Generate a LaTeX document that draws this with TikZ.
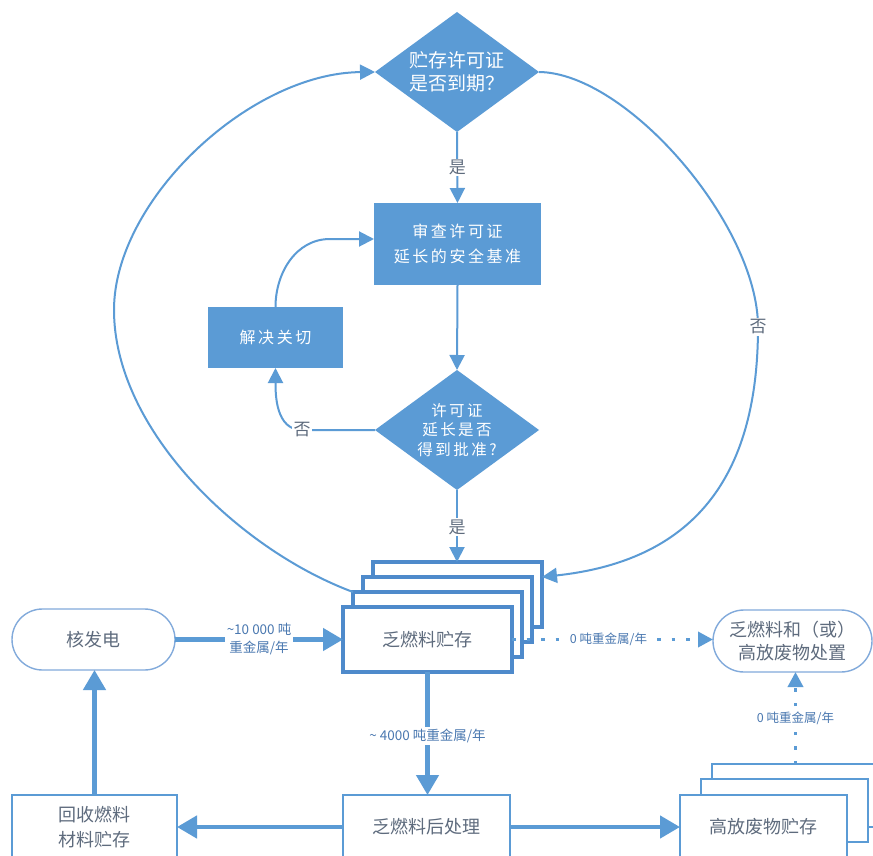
\documentclass[tikz,border=0pt]{standalone}
\usepackage{fontspec}
\setmainfont{Noto Sans CJK SC}
\newfontfamily\kai[LetterSpace=16]{Noto Sans CJK SC}
\usetikzlibrary{shapes.geometric,shapes.misc,arrows.meta,calc}
\definecolor{bfill}{HTML}{5B9BD5}
\definecolor{bline}{HTML}{5B9BD5}
\definecolor{bdark}{HTML}{4E8ACB}
\definecolor{txt}{HTML}{5E6B7D}
\definecolor{lbl}{HTML}{4A78B0}
\definecolor{bord}{HTML}{82AADB}
\tikzset{
  dia/.style={diamond, fill=bfill, text=white, minimum width=164pt, minimum height=120pt,
    inner sep=0pt, outer sep=0pt, shape aspect=1.37, align=center},
  bluebox/.style={rectangle, fill=bfill, text=white, inner sep=0pt, outer sep=0pt, align=center,
    font=\kai\fontsize{16}{25}\selectfont},
  wbox/.style={rectangle, draw=bline, line width=1.5pt, fill=white, text=txt, inner sep=0pt,
    outer sep=0pt, align=center, font=\fontsize{18}{25}\selectfont},
  stackbox/.style={rectangle, draw=bdark, line width=3.2pt, fill=white, text=txt, inner sep=0pt,
    outer sep=0pt, minimum width=169pt, minimum height=65pt, font=\fontsize{18}{25}\selectfont},
  hbox/.style={rectangle, draw=bline, line width=1.5pt, fill=white, text=txt, inner sep=0pt,
    outer sep=0pt, minimum width=167pt, minimum height=63pt, font=\fontsize{18}{25}\selectfont},
  stad/.style={rounded rectangle, draw=bord, line width=1.4pt, fill=white, text=txt, inner sep=0pt,
    outer sep=0pt, align=center, font=\fontsize{18}{23}\selectfont},
  thinarrow/.style={draw=bline, line width=2pt, -{Triangle[length=15pt,width=15pt]}},
  thickarrow/.style={draw=bline, line width=4.5pt, -{Triangle[length=20pt,width=22pt]}},
  dotarrow/.style={draw=bline, line width=3.5pt, dash pattern=on 3.5pt off 11pt,
    -{Triangle[length=15pt,width=15pt]}},
  yn/.style={fill=white, text=txt, inner sep=1.5pt, font=\fontsize{17}{17}\selectfont},
  flow/.style={fill=white, text=lbl, inner sep=2pt, align=center, font=\fontsize{13.5}{18}\selectfont},
  flowsmall/.style={fill=white, text=lbl, inner sep=2pt, font=\fontsize{12.5}{14}\selectfont}
}
\begin{document}
\begin{tikzpicture}[x=1pt,y=-1pt]
\useasboundingbox (0,0) rectangle (873,856);
\fill[white] (0,0) rectangle (873,856);

% decision and action nodes
\node[dia, font=\fontsize{19}{23}\selectfont] (d1) at (457,72) {贮存许可证\\是否到期？};
\node[bluebox, minimum width=167pt, minimum height=82pt] (b1) at (457.5,244) {审查许可证\\延长的安全基准};
\node[bluebox, minimum width=135pt, minimum height=61pt] (b2) at (275.5,337.5) {解决关切};
\node[dia, font=\kai\fontsize{15.5}{19.5}\selectfont] (d2) at (457,430) {许可证\\延长是否\\得到批准?};

% spent fuel storage stack
\node[stackbox] (s4) at (457.5,594.5) {};
\node[stackbox] (s3) at (447.5,609.5) {};
\node[stackbox] (s2) at (437.5,624.5) {};
\node[stackbox] (f1) at (427.5,639.5) {乏燃料贮存};

% other nodes
\node[stad, minimum width=163pt, minimum height=61pt] (np) at (93.5,639.5) {核发电};
\node[stad, minimum width=159pt, minimum height=62pt] (disp) at (792.5,641) {乏燃料和（或）\\高放废物处置};
\node[wbox, minimum width=165pt, minimum height=64pt] (rec) at (94.5,827) {回收燃料\\材料贮存};
\node[wbox, minimum width=167pt, minimum height=64pt] (rp) at (426.5,827) {乏燃料后处理};
\node[hbox] (h3) at (795.5,795.5) {};
\node[hbox] (h2) at (784.5,810.5) {};
\node[hbox] (h1) at (763.5,826.5) {高放废物贮存};

% thin connectors
\draw[thinarrow] (d1.south) -- node[yn] {是} (b1.north);
\draw[thinarrow] (b1.south) -- (d2.north);
\draw[thinarrow] (d2.west) -- (302,430) node[yn] {否} to[out=180,in=-90] (b2.south);
\draw[thinarrow] (b2.north) to[out=90,in=180] (330,239) -- ([yshift=5pt]b1.west);
\draw[thinarrow] (d2.south) -- node[yn, pos=0.52] {是} (d2.south |- s4.north);

% big loop
\draw[thinarrow] (s2.north west) .. controls (240,550) and (114,430) .. (114,310)
  .. controls (114,200) and (250,73) .. (d1.west);
\draw[thinarrow] (d1.east) .. controls (627,73) and (758,225) .. (758,327) node[yn] {否}
  .. controls (758,470) and (700,560) .. ([yshift=17.5pt]s4.east);

% thick flows
\draw[thickarrow] (np.east) -- node[flow] {\textasciitilde10 000 吨\\重金属/年} (f1.west);
\draw[thickarrow] (f1.south) -- node[flow, pos=0.52] {\textasciitilde\ 4000 吨重金属/年} (f1.south |- rp.north);
\draw[thickarrow] (rp.west) -- (rp.west -| rec.east);
\draw[thickarrow] (rec.north) -- (rec.north |- np.south);
\draw[thickarrow] (rp.east) -- (rp.east -| h1.west);

% dotted flows
\draw[dotarrow] (f1.east) -- node[flowsmall, pos=0.48] {0 吨重金属/年} (f1.east -| disp.west);
\draw[dotarrow] (h3.north) -- node[flowsmall] {0 吨重金属/年} (h3.north |- disp.south);
\end{tikzpicture}
\end{document}
